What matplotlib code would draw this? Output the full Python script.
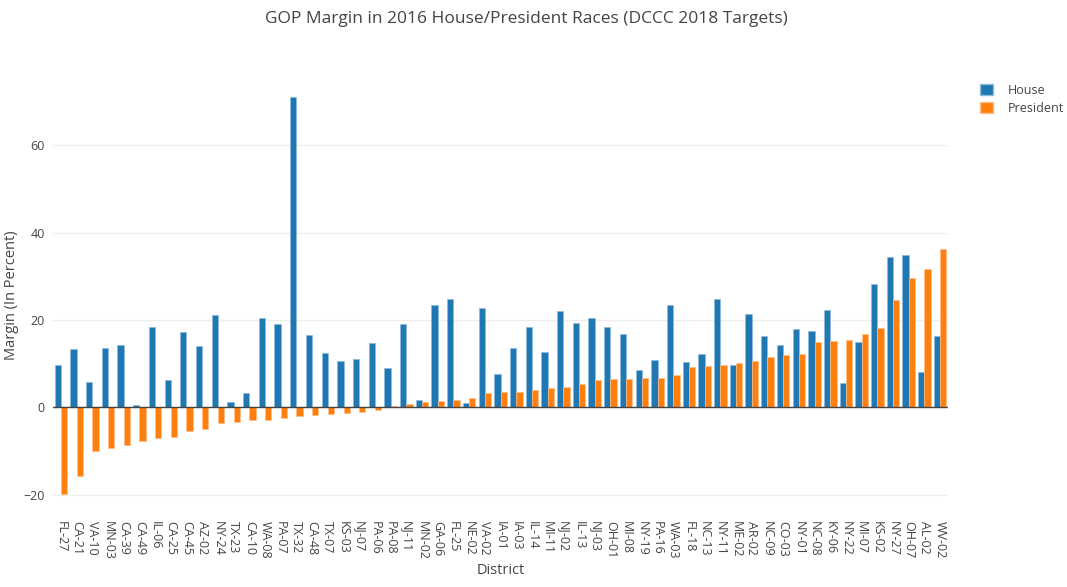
import numpy as np
import matplotlib
matplotlib.use("Agg")
import matplotlib.pyplot as plt
from matplotlib.patches import Patch

plt.rcParams['font.family'] = ['Open Sans', 'DejaVu Sans']

districts = ["FL-27", "CA-21", "VA-10", "MN-03", "CA-39", "CA-49", "IL-06", "CA-25",
             "CA-45", "AZ-02", "NY-24", "TX-23", "CA-10", "WA-08", "PA-07", "TX-32",
             "CA-48", "TX-07", "KS-03", "NJ-07", "PA-06", "PA-08", "NJ-11", "MN-02",
             "GA-06", "FL-25", "NE-02", "VA-02", "IA-01", "IA-03", "IL-14", "MI-11",
             "NJ-02", "IL-13", "NJ-03", "OH-01", "MI-08", "NY-19", "PA-16", "WA-03",
             "FL-18", "NC-13", "NY-11", "ME-02", "AR-02", "NC-09", "CO-03", "NY-01",
             "NC-08", "KY-06", "NY-22", "MI-07", "KS-02", "NY-27", "OH-07", "AL-02",
             "WV-02"]

house = [9.8, 13.4, 5.8, 13.7, 14.4, 0.5, 18.4, 6.2,
         17.2, 14.0, 21.1, 1.2, 3.4, 20.4, 19.0, 71.1,
         16.6, 12.4, 10.6, 11.0, 14.7, 9.0, 19.1, 1.8,
         23.4, 24.8, 1.1, 22.7, 7.6, 13.7, 18.5, 12.7,
         22.0, 19.3, 20.4, 18.4, 16.8, 8.5, 10.8, 23.4,
         10.5, 12.2, 24.8, 9.6, 21.5, 16.3, 14.3, 17.9,
         17.6, 22.2, 5.5, 15.0, 28.2, 34.4, 35.0, 8.2,
         16.3]

president = [-19.8, -15.6, -9.9, -9.4, -8.6, -7.6, -7.0, -6.7,
             -5.4, -4.9, -3.6, -3.4, -3.0, -3.0, -2.4, -1.9,
             -1.7, -1.4, -1.2, -1.1, -0.5, 0.4, 0.8, 1.2,
             1.5, 1.7, 2.1, 3.4, 3.5, 3.5, 3.9, 4.4,
             4.7, 5.4, 6.2, 6.6, 6.6, 6.7, 6.7, 7.4,
             9.2, 9.5, 9.8, 10.2, 10.6, 11.5, 12.0, 12.2,
             15.0, 15.3, 15.4, 16.9, 18.3, 24.5, 29.6, 31.8,
             36.4]

blue = "#1f77b4"
orange = "#ff7f0e"
text_col = "#444444"

fig = plt.figure(figsize=(10.67, 5.87), dpi=100)
ax = fig.add_axes([0.0497, 0.1312, 0.8388, 0.7325])

x = np.arange(len(districts))
w = 0.4
ax.bar(x - w / 2, house, width=w, color=blue, edgecolor="#8fbbd9", linewidth=0.5, zorder=3)
ax.bar(x + w / 2, president, width=w, color=orange, edgecolor="#ffbf87", linewidth=0.5, zorder=3)

ax.set_xlim(-0.5, len(districts) - 0.5)
ax.set_ylim(-23.5, 75)
ax.set_yticks([-20, 0, 20, 40, 60])
ax.set_yticklabels(["\u221220", "0", "20", "40", "60"])
ax.grid(axis="y", color="#eeeeee", linewidth=1, zorder=0)
ax.axhline(0, color=text_col, linewidth=1, zorder=4)
for s in ax.spines.values():
    s.set_visible(False)

ax.set_xticks(x)
ax.set_xticklabels(districts, rotation=-90, fontsize=9, color=text_col)
ax.tick_params(axis="both", length=0, colors=text_col, labelsize=9)
ax.tick_params(axis="x", pad=8)
ax.tick_params(axis="y", pad=6)

ax.set_xlabel("District", fontsize=10.5, color=text_col, labelpad=2)
fig.text(12 / 1067, 0.497, "Margin (In Percent)", rotation=90, ha="center", va="center",
         fontsize=10.5, color=text_col)

fig.text(0.493, 0.968, "GOP Margin in 2016 House/President Races (DCCC 2018 Targets)",
         ha="center", va="center", fontsize=12.5, color=text_col)

handles = [Patch(facecolor=blue, edgecolor="#8fbbd9", label="House"),
           Patch(facecolor=orange, edgecolor="#ffbf87", label="President")]
fig.legend(handles=handles, loc="upper left", bbox_to_anchor=(0.908, 0.876),
           frameon=False, fontsize=9, handlelength=1.0, handleheight=1.0,
           handletextpad=1.2, labelspacing=0.4, labelcolor=text_col)

fig.savefig("out.png", dpi=100)
